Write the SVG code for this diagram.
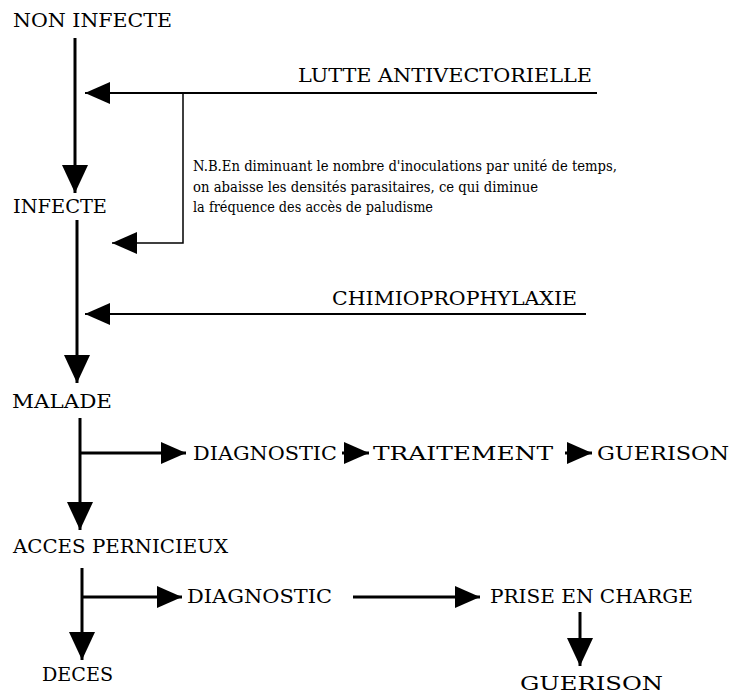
<svg xmlns="http://www.w3.org/2000/svg" width="732" height="693" viewBox="0 0 732 693">
<style>
.t{font-family:"DejaVu Serif","Liberation Serif",serif;font-size:19px;fill:#000}
.s{font-family:"DejaVu Serif","Liberation Serif",serif;font-size:14px;fill:#000}
.w{stroke:#000;fill:none;stroke-width:3}
.n{stroke:#000;fill:none;stroke-width:2}
.h{stroke:#000;fill:none;stroke-width:1.5}
</style>
<defs>
<marker id="a" markerUnits="userSpaceOnUse" markerWidth="30" markerHeight="28" refX="28" refY="13" orient="auto" viewBox="0 0 30 28">
<path d="M0,0 L28,13 L0,26 z" fill="#000"/>
</marker>
<marker id="b" markerUnits="userSpaceOnUse" markerWidth="26" markerHeight="24" refX="25" refY="11" orient="auto" viewBox="0 0 26 24">
<path d="M0,0 L25,11 L0,22 z" fill="#000"/>
</marker>
</defs>
<g id="connectors">
<line class="w" x1="75" y1="38" x2="75" y2="193" marker-end="url(#a)"/>
<line class="n" x1="597" y1="93" x2="85" y2="93" marker-end="url(#b)"/>
<polyline class="h" points="183,93 183,243 112,243" marker-end="url(#b)"/>
<line class="w" x1="77" y1="220" x2="77" y2="383" marker-end="url(#a)"/>
<line class="n" x1="586" y1="314" x2="85" y2="314" marker-end="url(#b)"/>
<line class="w" x1="80" y1="418" x2="80" y2="530" marker-end="url(#a)"/>
<line class="w" x1="80" y1="453" x2="186" y2="453" marker-end="url(#b)"/>
<line class="w" x1="342" y1="453" x2="369" y2="453" marker-end="url(#b)"/>
<line class="w" x1="565" y1="453" x2="592" y2="453" marker-end="url(#b)"/>
<line class="w" x1="82" y1="568" x2="82" y2="660" marker-end="url(#a)"/>
<line class="w" x1="82" y1="597" x2="182" y2="597" marker-end="url(#b)"/>
<line class="w" x1="353" y1="597" x2="480" y2="597" marker-end="url(#b)"/>
<line class="w" x1="580" y1="612" x2="580" y2="666" marker-end="url(#a)"/>
</g>
<g id="non-infecte"><text class="t" x="13" y="27" textLength="159" lengthAdjust="spacingAndGlyphs">NON INFECTE</text></g>
<g id="lutte"><text class="t" x="298" y="82" textLength="294" lengthAdjust="spacingAndGlyphs">LUTTE ANTIVECTORIELLE</text></g>
<g id="nb">
<text class="s" x="193" y="171" textLength="424" lengthAdjust="spacingAndGlyphs">N.B.En diminuant le nombre d'inoculations par unité de temps,</text>
<text class="s" x="193" y="192" textLength="345" lengthAdjust="spacingAndGlyphs">on abaisse les densités parasitaires, ce qui diminue</text>
<text class="s" x="193" y="212" textLength="240" lengthAdjust="spacingAndGlyphs">la fréquence des accès de paludisme</text>
</g>
<g id="infecte"><text class="t" x="13" y="213" textLength="94" lengthAdjust="spacingAndGlyphs">INFECTE</text></g>
<g id="chimio"><text class="t" x="332" y="305" textLength="245" lengthAdjust="spacingAndGlyphs">CHIMIOPROPHYLAXIE</text></g>
<g id="malade"><text class="t" x="12" y="408" textLength="100" lengthAdjust="spacingAndGlyphs">MALADE</text></g>
<g id="diagnostic1"><text class="t" x="193" y="460" textLength="144" lengthAdjust="spacingAndGlyphs">DIAGNOSTIC</text></g>
<g id="traitement"><text class="t" x="373" y="460" textLength="180" lengthAdjust="spacingAndGlyphs">TRAITEMENT</text></g>
<g id="guerison1"><text class="t" x="597" y="460" textLength="132" lengthAdjust="spacingAndGlyphs">GUERISON</text></g>
<g id="acces"><text class="t" x="13" y="553" textLength="215" lengthAdjust="spacingAndGlyphs">ACCES PERNICIEUX</text></g>
<g id="diagnostic2"><text class="t" x="187" y="603" textLength="145" lengthAdjust="spacingAndGlyphs">DIAGNOSTIC</text></g>
<g id="prise"><text class="t" x="490" y="603" textLength="203" lengthAdjust="spacingAndGlyphs">PRISE EN CHARGE</text></g>
<g id="deces"><text class="t" x="42" y="681" textLength="71" lengthAdjust="spacingAndGlyphs">DECES</text></g>
<g id="guerison2"><text class="t" x="520" y="690" textLength="143" lengthAdjust="spacingAndGlyphs">GUERISON</text></g>
</svg>
